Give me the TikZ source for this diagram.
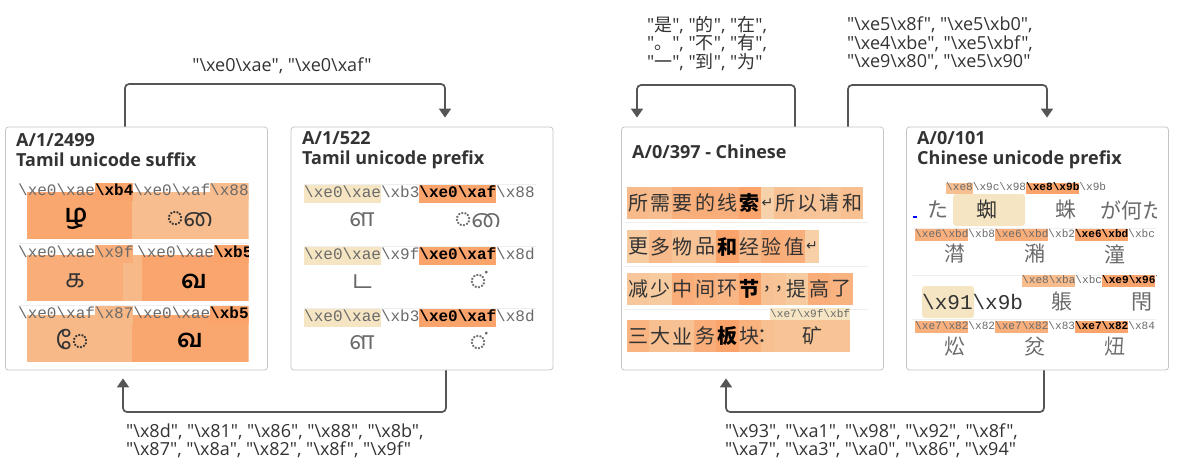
\documentclass[tikz,border=0pt]{standalone}
\usepackage{fontspec}
\setmainfont{Open Sans}[Ligatures=TeXOff]
\setmonofont{Liberation Mono}
\newfontfamily\zhfont{Noto Sans CJK SC}
\newfontfamily\tafont[Script=Tamil]{Hind Madurai}
\newfontfamily\symfont{DejaVu Sans}
\usetikzlibrary{arrows.meta}

\definecolor{hlD}{HTML}{FAA36B}
\definecolor{hlP}{HTML}{F5E5C3}
\definecolor{ink}{HTML}{333333}
\definecolor{dim}{HTML}{6A6A6A}
\definecolor{edge}{HTML}{C4C4C4}
\definecolor{rule}{HTML}{EEEEEE}
\definecolor{wire}{HTML}{555555}

\newcommand{\bx}[1]{\textbackslash x#1}
\newcommand{\hl}[2]{{\setlength{\fboxsep}{0pt}\colorbox{#1}{\strut#2}}}
\newcommand{\hb}[2]{\hl{#1}{\bfseries\color{black}#2}}
\newcommand{\q}[1]{"#1"}
\newcommand{\qz}[1]{"{\zhfont #1}"}
\newcommand{\arr}{{\symfont\fontsize{14}{14}\selectfont ↵}}
% vowel sign written after its dotted circle, as the reference shows it
\font\tamraw="Hind Madurai:script=latn" at 25pt
\newcommand{\ai}{{\tamraw ◌ை}}

\tikzset{
  panel/.style={draw=edge, line width=0.8pt, rounded corners=3pt, minimum width=262pt, minimum height=243pt, inner sep=0pt},
  flow/.style={draw=wire, line width=1.7pt, rounded corners=4pt, -{Triangle[length=9pt,width=12pt]}},
  title/.style={anchor=west, align=left, inner sep=0pt, text=ink, font=\fontsize{18}{20}\selectfont\bfseries},
  lbl/.style={align=left, inner sep=0pt, text=ink, font=\fontsize{18}{18.5}\selectfont},
  code/.style={anchor=west, inner sep=0pt, text=dim, font=\fontsize{16}{18}\selectfont\ttfamily},
  smallcode/.style={code, font=\fontsize{11.1}{11.5}\selectfont\ttfamily},
  bigcode/.style={code, text=ink, font=\fontsize{21}{24}\selectfont\ttfamily},
  tam/.style={inner sep=0pt, text=ink, font=\fontsize{25}{25}\tafont},
  tamb/.style={tam, text=black, font=\fontsize{25}{25}\tafont\bfseries},
  han/.style={inner sep=0pt, text=ink, font=\fontsize{20}{20}\zhfont},
  hanb/.style={han, text=dim, font=\fontsize{21}{21}\zhfont},
  sep/.style={draw=rule, line width=1pt}
}

\begin{document}
\begin{tikzpicture}[x=1pt,y=-1pt]
\useasboundingbox (0,0) rectangle (1184,475);

% the four panels
\node[panel] (suffix) at (136.5,248.5) {};
\node[panel] (prefix) at (422,248.5) {};
\node[panel] (chinese) at (752.5,248.5) {};
\node[panel] (cprefix) at (1037.5,248.5) {};
\node[title] (t1) at (16,150) {A/1/2499\\Tamil unicode suffix};
\node[title] (t2) at (302,150) {A/1/522\\Tamil unicode prefix};
\node[title] (t3) at (632,152) {A/0/397 - Chinese};
\node[title] (t4) at (917,150) {A/0/101\\Chinese unicode prefix};

% connectors
\coordinate (a1) at (125,84);
\coordinate (a2) at (445,84);
\coordinate (b1) at (446,412);
\coordinate (b2) at (123,412);
\coordinate (c1) at (795,85);
\coordinate (c2) at (637,85);
\coordinate (d1) at (848,85);
\coordinate (d2) at (1047,85);
\coordinate (e1) at (1044,412);
\coordinate (e2) at (726,412);
\draw[flow, shorten >=9pt] (suffix.north -| a1) -- (a1) -- (a2) -- (prefix.north -| a2);
\draw[flow, shorten >=8pt] (prefix.south -| b1) -- (b1) -- (b2) -- (suffix.south -| b2);
\draw[flow, shorten >=9pt] (chinese.north -| c1) -- (c1) -- (c2) -- (chinese.north -| c2);
\draw[flow, shorten >=9pt] (chinese.north -| d1) -- (d1) -- (d2) -- (cprefix.north -| d2);
\draw[flow, shorten >=8pt] (cprefix.south -| e1) -- (e1) -- (e2) -- (chinese.south -| e2);

\node[lbl] (k1) at (282,66) {\q{\bx{e0}\bx{ae}}, \q{\bx{e0}\bx{af}}};
\node[lbl, anchor=west] (k2) at (126,441) {\q{\bx{8d}}, \q{\bx{81}}, \q{\bx{86}}, \q{\bx{88}}, \q{\bx{8b}},\\
  \q{\bx{87}}, \q{\bx{8a}}, \q{\bx{82}}, \q{\bx{8f}}, \q{\bx{9f}}};
\node[lbl] (k3) at (707,43.5) {\qz{是}, \qz{的}, \qz{在},\\ \qz{。}, \qz{不}, \qz{有},\\ \qz{一}, \qz{到}, \qz{为}};
\node[lbl] (k4) at (940,43.5) {\q{\bx{e5}\bx{8f}}, \q{\bx{e5}\bx{b0}},\\ \q{\bx{e4}\bx{be}}, \q{\bx{e5}\bx{bf}},\\ \q{\bx{e9}\bx{80}}, \q{\bx{e5}\bx{90}}};
\node[lbl, anchor=west] (k5) at (725,441) {\q{\bx{93}}, \q{\bx{a1}}, \q{\bx{98}}, \q{\bx{92}}, \q{\bx{8f}},\\
  \q{\bx{a7}}, \q{\bx{a3}}, \q{\bx{a0}}, \q{\bx{86}}, \q{\bx{94}}};

% Tamil suffix
\begin{scope}
\clip (18,175) rectangle (248.5,365);
\fill[hlD!95!hlP] (27,192) rectangle (132,239);
\fill[hlD!60!hlP] (132,192) rectangle (249,239);
\fill[hlD!84!hlP] (27,255) rectangle (123,301);
\fill[hlD!66!hlP] (123,255) rectangle (142,301);
\fill[hlD!97!hlP] (142,255) rectangle (249,301);
\fill[hlD!66!hlP] (27,315) rectangle (132,362);
\fill[hlD!95!hlP] (132,315) rectangle (249,362);
\draw[sep] (18,243.5) -- (249,243.5) (18,305) -- (249,305);
\node[code] (s1) at (18,192) {\bx{e0}\bx{ae}\hb{hlD}{\bx{b4}}\bx{e0}\bx{af}\hl{hlD!60!hlP}{\bx{88}}};
\node[code] (s2) at (18,254) {\bx{e0}\bx{ae}\hl{hlD!84!hlP}{\bx{9f}}};
\node[code] (s2b) at (137,254) {\bx{e0}\bx{ae}\hb{hlD}{\bx{b5}}};
\node[code] (s3) at (18,315) {\bx{e0}\bx{af}\hl{hlD!66!hlP}{\bx{87}}\bx{e0}\bx{ae}\hb{hlD}{\bx{b5}}};
\node[tamb] (s1l) at (76,219) {ழ};
\node[tam] (s1r) at (190,219) {\ai};
\node[tam] (s2l) at (75,281) {க};
\node[tamb] (s2r) at (194,281) {வ};
\node[tam] (s3l) at (72,340) {ே};
\node[tamb] (s3r) at (190,340) {வ};
\end{scope}

% Tamil prefix
\draw[sep] (304,184) -- (536,184) (304,246) -- (536,246) (304,308) -- (536,308);
\node[code] (p1) at (304,194) {\hl{hlP}{\bx{e0}\bx{ae}}\bx{b3}\hb{hlD}{\bx{e0}\bx{af}}\bx{88}};
\node[code] (p2) at (304,256) {\hl{hlP}{\bx{e0}\bx{ae}}\bx{9f}\hb{hlD}{\bx{e0}\bx{af}}\bx{8d}};
\node[code] (p3) at (304,318) {\hl{hlP}{\bx{e0}\bx{ae}}\bx{b3}\hb{hlD}{\bx{e0}\bx{af}}\bx{8d}};
\node[tam, text=dim] (p1l) at (362,220) {ள};
\node[tam, text=dim] (p1r) at (478,220) {\ai};
\node[tam, text=dim] (p2l) at (362,282) {ட};
\node[tam, text=dim] (p2r) at (478,280) {◌்};
\node[tam, text=dim] (p3l) at (362,343) {ள};
\node[tam, text=dim] (p3r) at (478,341) {◌்};

% Chinese text, one cell per character
\draw[sep] (622.5,222.5) -- (868,222.5) (622.5,266) -- (868,266) (622.5,309) -- (868,309);
\foreach \ch/\w/\p [count=\i, remember=\xe as \xs (initially 627), evaluate=\xs as \xe using \xs+\w] in
  {所/22.3/65, 需/22.3/60, 要/22.3/82, 的/22.3/85, 线/22.3/82, 索/22.3/100, \arr/13.3/30, 所/22.3/55, 以/22.3/50, 请/22.3/45, 和/22.3/58}{
  \fill[hlD!\p!hlP] (\xs,187) rectangle (\xe,219);
  \node[han] (za\i) at ({(\xs+\xe)/2},203) {\ifnum\p=100 \bfseries\color{black}\fi\ch};
}
\foreach \ch/\w/\p [count=\i, remember=\xe as \xs (initially 627), evaluate=\xs as \xe using \xs+\w] in
  {更/22.3/40, 多/22.3/65, 物/22.3/52, 品/22.3/50, 和/22.3/100, 经/22.3/65, 验/22.3/85, 值/22.3/82, \arr/13.3/32}{
  \fill[hlD!\p!hlP] (\xs,230) rectangle (\xe,263);
  \node[han] (zb\i) at ({(\xs+\xe)/2},246.5) {\ifnum\p=100 \bfseries\color{black}\fi\ch};
}
\foreach \ch/\w/\p [count=\i, remember=\xe as \xs (initially 627), evaluate=\xs as \xe using \xs+\w] in
  {减/22.3/45, 少/22.3/40, 中/22.3/85, 间/22.3/78, 环/22.3/72, 节/22.3/100, {,}/12.5/55, {,}/12.5/52, 提/22.3/40, 高/22.3/84, 了/22.3/76}{
  \fill[hlD!\p!hlP] (\xs,273) rectangle (\xe,305);
  \node[han] (zc\i) at ({(\xs+\xe)/2},289) {\ifnum\p=100 \bfseries\color{black}\fi\ch};
}
\foreach \ch/\w/\p [count=\i, remember=\xe as \xs (initially 627), evaluate=\xs as \xe using \xs+\w] in
  {三/22.3/74, 大/22.3/58, 业/22.3/54, 务/22.3/84, 板/22.3/100, 块/22.3/78, ：/13.3/58, 矿/76/52}{
  \fill[hlD!\p!hlP] (\xs,320) rectangle (\xe,352);
  \node[han] (zd\i) at ({(\xs+\xe)/2},336) {\ifnum\p=100 \bfseries\color{black}\fi\ch};
}
\fill[hlP] (770,308) rectangle (850,319.5);
\node[smallcode] (zcode) at (770,313.5) {\bx{e7}\bx{9f}\bx{bf}};

% Chinese unicode prefix
\begin{scope}
\clip (908,176) rectangle (1156,366);
\draw[sep] (912,228.5) -- (1156,228.5) (912,275) -- (1156,275) (912,319) -- (1156,319);
\fill[hlP, rounded corners=3pt] (953,194) rectangle (1025,226);
\fill[hlP, rounded corners=3pt] (922,286) rectangle (974,318);
\draw[blue, line width=1.4pt] (913,217) -- (917,217);
\node[smallcode] (u1) at (946,188.5) {\hl{hlD!57!hlP}{\bx{e8}}\bx{9c}\bx{98}\hb{hlD}{\bx{e8}\bx{9b}}\bx{9b}};
\node[hanb] (u1a) at (938,210) {た};
\node[hanb, text=ink] (u1b) at (987,210) {蜘};
\node[hanb] (u1c) at (1066,210) {蛛};
\node[hanb, anchor=west] (u1d) at (1100,210) {が何た};
\node[smallcode] (u2) at (915,235) {\hl{hlD!80!hlP}{\bx{e6}\bx{bd}}\bx{b8}\hl{hlD!85!hlP}{\bx{e6}\bx{bd}}\bx{b2}\hb{hlD}{\bx{e6}\bx{bd}}\bx{bc}};
\node[hanb] (u2a) at (955,254) {潸};
\node[hanb] (u2b) at (1035,254) {潲};
\node[hanb] (u2c) at (1115,254) {潼};
\node[smallcode] (u3) at (1022,281) {\hl{hlD!62!hlP}{\bx{e8}\bx{ba}}\bx{bc}\hb{hlD}{\bx{e9}\bx{96}}\bx{87}};
\node[bigcode] (u3a) at (922,302) {\bx{91}\bx{9b}};
\node[hanb] (u3b) at (1062,302) {躼};
\node[hanb] (u3c) at (1142,302) {閇};
\node[smallcode] (u4) at (915,327) {\hl{hlD!80!hlP}{\bx{e7}\bx{82}}\bx{82}\hl{hlD!82!hlP}{\bx{e7}\bx{82}}\bx{83}\hb{hlD}{\bx{e7}\bx{82}}\bx{84}};
\node[hanb] (u4a) at (955,347) {炂};
\node[hanb] (u4b) at (1035,347) {炃};
\node[hanb] (u4c) at (1115,347) {炄};
\end{scope}
\end{tikzpicture}
\end{document}
